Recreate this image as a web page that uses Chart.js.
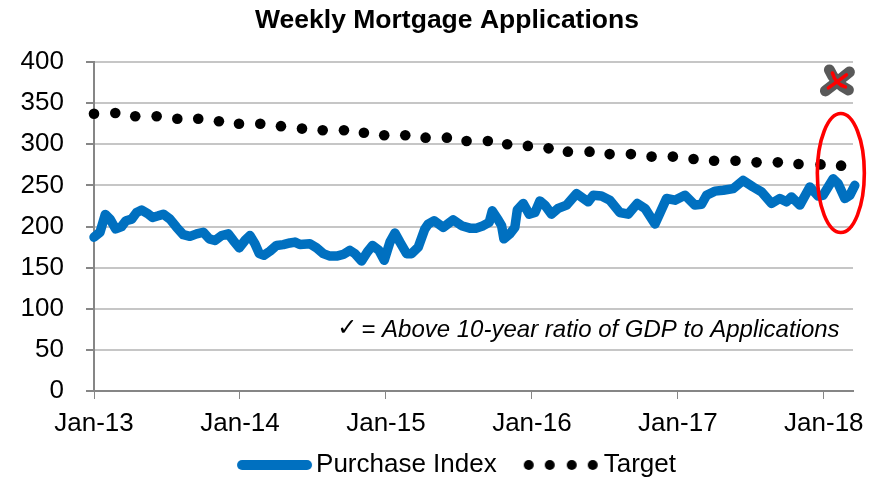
<!DOCTYPE html>
<html>
<head>
<meta charset="utf-8">
<script src="https://cdn.jsdelivr.net/npm/chart.js@4/dist/chart.umd.js"></script>
<style>html,body{margin:0;padding:0;background:#fff}#w{width:876px;height:480px}</style>
</head>
<body>
<div id="w"><canvas id="c" width="876" height="480"></canvas></div>
<script>
const titleText = "Weekly Mortgage Applications";
const noteText = "= Above 10-year ratio of GDP to Applications";
const checkText = "\u2713";
const yearLabels = ["Jan-13","Jan-14","Jan-15","Jan-16","Jan-17","Jan-18"];
const purchaseMonths = [0,0.49,0.93,1.32,1.78,2.27,2.63,3.1,3.5,3.92,4.38,4.82,5.29,5.7,6.25,6.79,7.34,7.89,8.44,8.99,9.48,9.95,10.5,11.04,11.45,11.94,12.41,12.82,13.23,13.59,13.97,14.47,15.01,15.56,16.11,16.52,16.93,17.75,18.3,18.85,19.4,19.95,20.49,21.04,21.45,22,22.47,22.9,23.42,23.86,24.33,24.74,25.15,25.7,26.11,26.66,27.2,27.48,27.95,28.71,29.53,30.22,30.9,31.45,32,32.49,32.74,33.23,33.51,33.7,34.19,34.6,34.8,35.29,35.78,36.25,36.66,37.07,37.61,38.16,38.85,39.67,40.63,41.04,41.72,42.41,43.23,43.92,44.66,45.3,46.12,47.07,47.76,48.58,49.4,49.95,50.36,51.04,51.73,52.55,53.37,54.19,54.88,55.7,56.38,56.93,57.34,58.03,58.85,59.53,59.94,60.77,61.18,61.73,62.14,62.55];
const purchaseValues = [187,193,214.6,209,197,200,207,209,217,220,216,211,213,215,209,199,190,188,191,193,185,183,189,191,183,174,183,189,179,167,165,170,177,178,180,181,178,179,174,167,164,164,166,171,167,158,169,177,171,159,181,192,181,167,167,175,197,203,207,199,208,201,198,198,201,205,219,208,201,185,191,199,220,228,215,217,231,226,215,222,226,240,230,238,237,232,217,215,228,222,203,234,232,238,226,227,238,243,244,246,256,248,242,228,234,230,236,226,248,237,238,258,252,234,238,250];
const targetMonths = [0,1.75,3.39,5.15,6.85,8.57,10.27,11.92,13.67,15.37,17.1,18.8,20.55,22.19,23.86,25.59,27.26,29.01,30.63,32.38,33.97,35.67,37.37,38.96,40.74,42.39,44.14,45.84,47.59,49.29,50.98,52.74,54.47,56.22,57.92,59.73,61.42];
const targetValues = [337,338,334,334,331,331,328,325,325,322,319,317,317,314,311,311,308,308,304,304,300,298,295,291,291,288,288,285,285,282,280,280,278,278,276,275.5,274];

const BLUE = "#0070C0";
const FONT = "'Liberation Sans', Arial, sans-serif";
const TSIZE = 26;

function sample(draw){
  const k = document.createElement("canvas"); k.width = 107; k.height = 16;
  draw(k.getContext("2d")); return k;
}
const lineSample = sample(g=>{
  g.strokeStyle = BLUE; g.lineWidth = 10; g.lineCap = "round";
  g.beginPath(); g.moveTo(35,8); g.lineTo(100,8); g.stroke();
});
const dotSample = sample(g=>{
  g.fillStyle = "#000";
  [34,55,77,98].forEach(x=>{ g.beginPath(); g.arc(x,8,5,0,Math.PI*2); g.fill(); });
});

const annotations = {
  id: "annotations",
  afterDatasetsDraw(chart){
    const g = chart.ctx, sx = chart.scales.x, sy = chart.scales.y;
    g.save();
    g.fillStyle = "#000"; g.textBaseline = "alphabetic";
    g.font = "italic 24px " + FONT; g.textAlign = "right";
    g.fillText(noteText, sx.getPixelForValue(61.3), sy.getPixelForValue(66));
    g.font = "24px 'DejaVu Sans'"; g.textAlign = "left";
    g.fillText(checkText, sx.getPixelForValue(20), sy.getPixelForValue(68));
    const cx = sx.getPixelForValue(61.2), cy = sy.getPixelForValue(377);
    g.lineCap = "round"; g.lineJoin = "round";
    const cross = (col,w,a,b)=>{
      g.strokeStyle = col; g.lineWidth = w;
      g.beginPath(); g.moveTo(cx-a+2,cy-b); g.quadraticCurveTo(cx-3,cy+3,cx+a-1,cy+b-2); g.stroke();
      g.beginPath(); g.moveTo(cx+a,cy-b+2); g.quadraticCurveTo(cx,cy,cx-a-2,cy+b-1); g.stroke();
    };
    cross("#595959",11,11,11);
    cross("#FF0000",3.5,8,8);
    g.strokeStyle = "#FF0000"; g.lineWidth = 3.6;
    g.beginPath();
    g.ellipse(sx.getPixelForValue(61.4), sy.getPixelForValue(265), 23.5, 59.5, 0, 0, Math.PI*2);
    g.stroke();
    g.restore();
  }
};

new Chart(document.getElementById("c"), {
  type: "line",
  data: {
    datasets: [
      { label: "Purchase Index",
        data: purchaseMonths.map((m,i)=>({x:m,y:purchaseValues[i]})),
        borderColor: BLUE, backgroundColor: BLUE, borderWidth: 9.5,
        pointRadius: 0, tension: 0, clip: false, borderJoinStyle: "round", borderCapStyle: "round" },
      { label: "Target",
        data: targetMonths.map((m,i)=>({x:m,y:targetValues[i]})),
        showLine: false, pointRadius: 5.3, pointBackgroundColor: "#000", pointBorderWidth: 0, clip: false }
    ]
  },
  plugins: [annotations],
  options: {
    responsive: false,
    animation: false,
    parsing: false,
    layout: { padding: { left: 18, right: 0, top: 0, bottom: -8 } },
    plugins: {
      title: { display: true, text: titleText, color: "#000", align: "center",
        font: { family: FONT, size: 26.5, weight: "bold", lineHeight: 1 },
        padding: { top: 7, bottom: 28.5 } },
      legend: { position: "bottom", align: "center",
        labels: { usePointStyle: true, pointStyleWidth: 85, padding: 9, color: "#000",
          font: { family: FONT, size: TSIZE, lineHeight: 1 },
          generateLabels: c => c.data.datasets.map((d,i)=>({
            text: d.label, datasetIndex: i, pointStyle: i===0 ? lineSample : dotSample,
            fillStyle: "#000", strokeStyle: "#000", lineWidth: 0, fontColor: "#000" })) } },
      tooltip: { enabled: false }
    },
    scales: {
      x: { type: "linear", min: 0, max: 62.4,
        afterFit(s){ s.height = 52; s.paddingLeft = 0; s.paddingRight = 23; },
        border: { color: "#868686", width: 2 },
        grid: { drawOnChartArea: false, tickColor: "#868686", tickLength: 8, tickWidth: 1 },
        ticks: { stepSize: 12, includeBounds: false, autoSkip: false, maxRotation: 0, padding: 9,
          color: "#000", font: { family: FONT, size: TSIZE },
          callback: v => yearLabels[v/12] } },
      y: { min: 0, max: 400,
        afterFit(s){ s.width = 76; s.paddingTop = 0; s.paddingBottom = 0; },
        border: { color: "#868686", width: 2 },
        grid: { color: "#c6c6c6", lineWidth: 2, tickColor: "#868686", tickLength: 8 },
        ticks: { stepSize: 50, padding: 22, color: "#000", font: { family: FONT, size: TSIZE } } }
    }
  }
});
</script>
</body>
</html>
